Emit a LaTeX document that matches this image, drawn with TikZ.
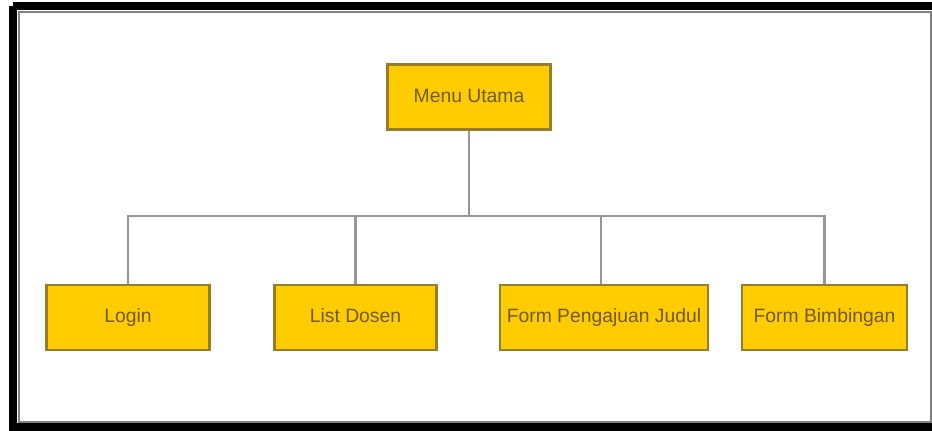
\documentclass[tikz,border=0pt]{standalone}
\usepackage{fontspec}
\setmainfont{Liberation Sans}
\usetikzlibrary{positioning}
\definecolor{boxfill}{RGB}{255,204,0}
\definecolor{boxline}{RGB}{150,125,40}
\definecolor{boxtext}{RGB}{115,90,0}
\definecolor{linkgray}{RGB}{150,150,150}
\tikzset{
    menubox/.style={draw=boxline, fill=boxfill, line width=1.6pt, text=boxtext,
        font=\fontsize{11}{12}\selectfont, minimum width=3.25cm, minimum height=1.3cm,
        inner sep=0pt, text height=8pt, text depth=2pt},
    link/.style={draw=linkgray, line width=1.6pt}
}
\begin{document}
\begin{tikzpicture}[x=0.02cm, y=-0.02cm]
    \useasboundingbox (0,0) rectangle (932,431);
    % bingkai
    \fill[white] (0,0) rectangle (932,431);
    \draw[line width=8*0.02cm] (13,6.5) -- (13,427.5) -- (945,427.5);
    \draw[line width=8*0.02cm] (13,6.5) -- (945,6.5);
    \draw[gray, line width=2*0.02cm] (19,12) rectangle (931,422);

    % menu utama
    \node[menubox] (utama) at (469,97) {Menu Utama};

    % sub menu
    \node[menubox] (login) at (128,317.5) {Login};
    \node[menubox] (dosen) at (355.5,317.5) {List Dosen};
    \node[menubox, minimum width=4.16cm] (judul) at (604,317.5) {Form Pengajuan Judul};
    \node[menubox, minimum width=3.3cm] (bimbingan) at (824.5,317.5) {Form Bimbingan};

    % garis penghubung
    \coordinate (cabang) at (469,216);
    \draw[link] (utama.south) -- (cabang);
    \draw[link] (login.north) |- (cabang) -| (bimbingan.north);
    \draw[link] (dosen.north) -- (dosen.north |- cabang);
    \draw[link] ([xshift=-0.06cm]judul.north) -- ([xshift=-0.06cm]judul.north |- cabang);
\end{tikzpicture}
\end{document}
